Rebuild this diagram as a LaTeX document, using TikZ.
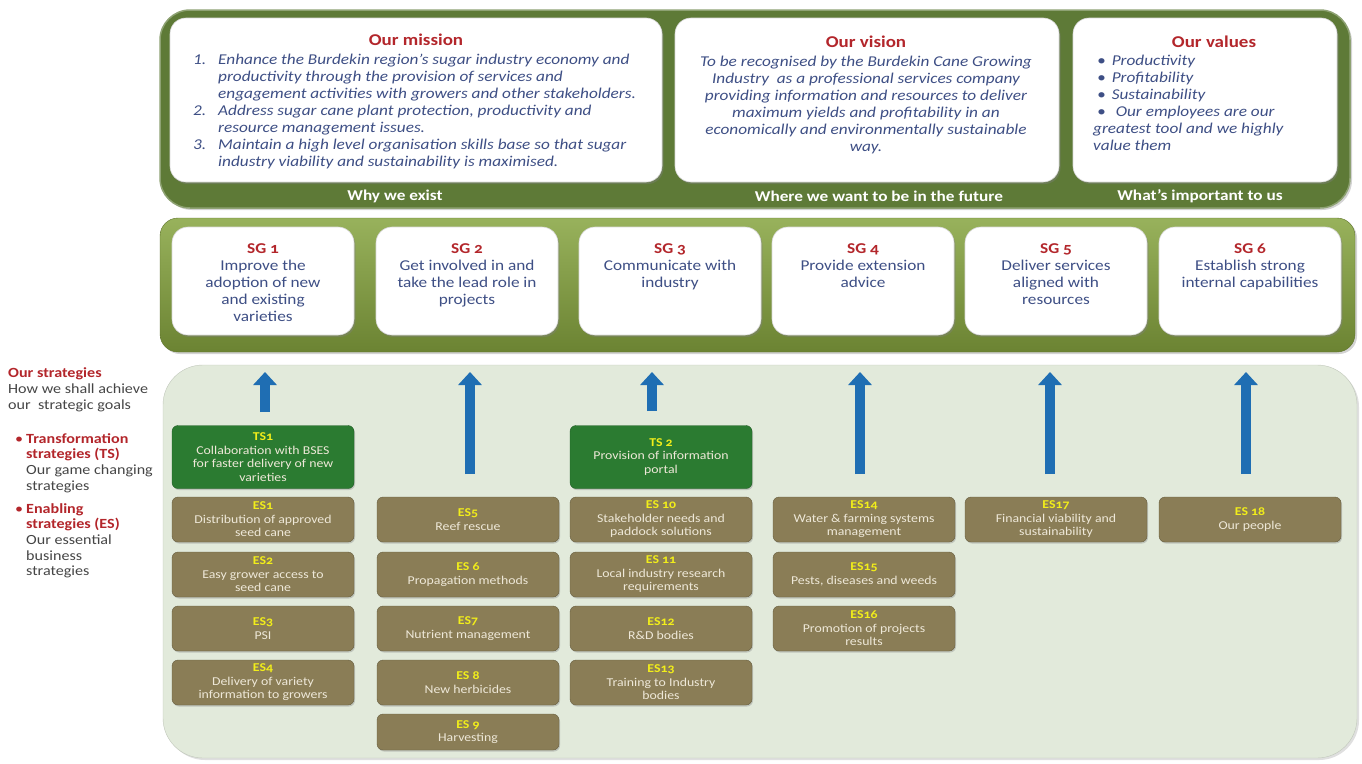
\documentclass[tikz,border=0pt]{standalone}
\usepackage{fontspec}
\setmainfont{Carlito}[FakeStretch=1.15]
\usepackage{tikz}
\usetikzlibrary{arrows.meta,shadows}

\definecolor{panelgreen}{HTML}{5E7A37}
\definecolor{goalgreen}{HTML}{86A43F}
\definecolor{basegreen}{HTML}{E2EADB}
\definecolor{headred}{HTML}{B3262B}
\definecolor{textblue}{HTML}{3E4F85}
\definecolor{notegrey}{HTML}{454545}
\definecolor{esbrown}{HTML}{8A7D56}
\definecolor{tsgreen}{HTML}{2B7B31}
\definecolor{arrowblue}{HTML}{1F6EB3}
\definecolor{labyellow}{HTML}{F2EE1A}
\definecolor{boxtext}{HTML}{EEE8D8}

\newcommand{\slab}[1]{{\color{labyellow}\bfseries\addfontfeatures{Numbers=OldStyle}#1}}
\newcommand{\sghead}[1]{{\color{headred}\bfseries\addfontfeatures{Numbers=OldStyle}#1}}

\tikzset{
  whitebox/.style={draw=black!15, fill=white, rounded corners=16pt, line width=0.6pt,
    drop shadow={opacity=0.4,shadow xshift=1.5pt,shadow yshift=-2pt}},
  sgbox/.style={whitebox, minimum width=182pt, minimum height=108pt},
  head/.style={text=headred, font=\bfseries\fontsize{16.5}{18}\selectfont, inner sep=0},
  body/.style={text=textblue, font=\itshape\fontsize{15}{17}\selectfont, inner sep=0},
  footer/.style={text=white, font=\bfseries\fontsize{15}{16}\selectfont, inner sep=0},
  sgtext/.style={text=textblue, font=\fontsize{15}{17}\selectfont, inner sep=0, align=center, anchor=north},
  note/.style={text=notegrey, font=\fontsize{14}{15.7}\selectfont, inner sep=0, align=left, anchor=north west},
  stratbox/.style={rounded corners=6pt, minimum width=182pt, align=center, text=boxtext,
    font=\fontsize{12}{13.5}\selectfont, inner sep=2pt,
    drop shadow={opacity=0.35,shadow xshift=1pt,shadow yshift=-1.5pt}},
  esbox/.style={stratbox, fill=esbrown, draw=esbrown!75!black, minimum height=45pt},
  tsbox/.style={stratbox, fill=tsgreen, draw=tsgreen!75!black, minimum height=63pt},
  uparrow/.style={draw=arrowblue, line width=10pt, -{Triangle[width=23pt,length=13pt,fill=arrowblue]}}
}

\begin{document}
\begin{tikzpicture}[x=1pt,y=-1pt]
  \useasboundingbox (0,0) rectangle (1362,763);

  % panels
  \path[fill=panelgreen, draw=panelgreen!70!white, line width=1.5pt, rounded corners=30pt,
    drop shadow={opacity=0.35,shadow xshift=2pt,shadow yshift=-2pt}] (160,10) rectangle (1350,208);
  \path[top color=goalgreen!85!white, bottom color=goalgreen!80!black, draw=goalgreen!70!black,
    rounded corners=18pt, drop shadow={opacity=0.35,shadow xshift=2pt,shadow yshift=-2pt}] (160,218) rectangle (1355,352);
  \path[fill=basegreen, draw=basegreen!85!black, rounded corners=40pt,
    drop shadow={opacity=0.25,shadow xshift=2pt,shadow yshift=-2pt}] (163,365) rectangle (1357,758);

  % mission, vision, values
  \node (mission) at (416,100) [whitebox, minimum width=492pt, minimum height=164pt] {};
  \node (vision) at (867,100) [whitebox, minimum width=384pt, minimum height=164pt] {};
  \node (values) at (1205,100) [whitebox, minimum width=264pt, minimum height=164pt] {};
  \node (misshead) at (416,40) [head] {Our mission};
  \node (missbody) at (193,54) [body, anchor=north west, align=left]
    {\makebox[25pt][l]{1.}Enhance the Burdekin region's sugar industry economy and\\
     \hspace*{25pt}productivity through the provision of services and\\
     \hspace*{25pt}engagement activities with growers and other stakeholders.\\
     \makebox[25pt][l]{2.}Address sugar cane plant\ protection, productivity and\\
     \hspace*{25pt}resource management issues.\\
     \makebox[25pt][l]{3.}Maintain a high level organisation skills\ base so that sugar\\
     \hspace*{25pt}industry viability and sustainability is maximised.};
  \node (vishead) at (866,42) [head] {Our vision};
  \node (visbody) at (866,56) [body, anchor=north, align=center]
    {To be recognised by the Burdekin Cane Growing\\
     Industry\ \ as a professional services company\\
     providing information and resources to deliver\\
     maximum\ yields and profitability in an\\
     economically and environmentally sustainable\\
     way.};
  \node (valhead) at (1214,42) [head] {Our values};
  \node (valbody) at (1093,55) [body, anchor=north west, align=left]
    {\hspace*{4pt}\textbullet\hspace{6pt}Productivity\\
     \hspace*{4pt}\textbullet\hspace{6pt}Profitability\\
     \hspace*{4pt}\textbullet\hspace{6pt}Sustainability\\
     \hspace*{4pt}\textbullet\hspace{10pt}Our employees are our\\
     greatest tool and we highly\\
     value them};
  \node (whylab) at (395,196) [footer] {Why we exist};
  \node (wherelab) at (879,196) [footer] {Where we want to be in the future};
  \node (whatlab) at (1200,196) [footer] {What's important to us};

  % strategic goals
  \node (sg1) at (263,281) [sgbox] {};
  \node (sg2) at (467,281) [sgbox] {};
  \node (sg3) at (670,281) [sgbox] {};
  \node (sg4) at (863,281) [sgbox] {};
  \node (sg5) at (1056,281) [sgbox] {};
  \node (sg6) at (1250,281) [sgbox] {};
  \node (sgt1) at (263,243) [sgtext] {\sghead{SG 1}\\Improve the\\adoption of new\\and existing\\varieties};
  \node (sgt2) at (467,243) [sgtext] {\sghead{SG 2}\\Get involved in and\\take the lead role in\\projects};
  \node (sgt3) at (670,243) [sgtext] {\sghead{SG 3}\\Communicate with\\industry};
  \node (sgt4) at (863,243) [sgtext] {\sghead{SG 4}\\Provide extension\\advice};
  \node (sgt5) at (1056,243) [sgtext] {\sghead{SG 5}\\Deliver services\\aligned with\\resources};
  \node (sgt6) at (1250,243) [sgtext] {\sghead{SG 6}\\Establish strong\\internal capabilities};

  % side notes
  \node (strat) at (8,367) [note, font=\fontsize{14}{16}\selectfont]
    {{\color{headred}\bfseries Our strategies}\\How we shall achieve\\our\ \ strategic goals};
  \node (tsnote) at (15,433) [note]
    {\makebox[11pt][l]{\color{headred}\textbullet}{\color{headred}\bfseries Transformation}\\
     \hspace*{11pt}{\color{headred}\bfseries strategies (TS)}\\
     \hspace*{11pt}Our game changing\\
     \hspace*{11pt}strategies};
  \node (esnote) at (15,503) [note]
    {\makebox[11pt][l]{\color{headred}\textbullet}{\color{headred}\bfseries Enabling}\\
     \hspace*{11pt}{\color{headred}\bfseries strategies (ES)}\\
     \hspace*{11pt}Our essential\\
     \hspace*{11pt}business\\
     \hspace*{11pt}strategies};

  % arrows up to the goals
  \coordinate (lo1) at (265,412);
  \coordinate (hi1) at (265,372);
  \coordinate (lo2) at (470,474);
  \coordinate (hi2) at (470,372);
  \coordinate (lo3) at (652,411);
  \coordinate (hi3) at (652,372);
  \coordinate (lo4) at (860,474);
  \coordinate (hi4) at (860,372);
  \coordinate (lo5) at (1050,474);
  \coordinate (hi5) at (1050,372);
  \coordinate (lo6) at (1246,474);
  \coordinate (hi6) at (1246,372);
  \draw[uparrow] (lo1) -- (hi1);
  \draw[uparrow] (lo2) -- (hi2);
  \draw[uparrow] (lo3) -- (hi3);
  \draw[uparrow] (lo4) -- (hi4);
  \draw[uparrow] (lo5) -- (hi5);
  \draw[uparrow] (lo6) -- (hi6);

  % transformation strategies
  \node (ts1) at (263,457) [tsbox] {\slab{TS1}\\Collaboration\ with BSES\\for faster delivery of new\\varieties};
  \node (ts2) at (661,457) [tsbox] {\slab{TS 2}\\Provision of information\\portal};

  % enabling strategies
  \node (es1) at (263,519.5) [esbox] {\slab{ES1}\\Distribution of approved\\seed cane};
  \node (es2) at (263,574.5) [esbox] {\slab{ES2}\\Easy grower access to\\seed cane};
  \node (es3) at (263,628.5) [esbox] {\slab{ES3}\\PSI};
  \node (es4) at (263,682.5) [esbox] {\slab{ES4}\\Delivery of variety\\information to growers};
  \node (es5) at (468,519.5) [esbox] {\slab{ES5}\\Reef rescue};
  \node (es6) at (468,574.5) [esbox] {\slab{ES 6}\\Propagation methods};
  \node (es7) at (468,628.5) [esbox] {\slab{ES7}\\Nutrient management};
  \node (es8) at (468,682.5) [esbox] {\slab{ES 8}\\New herbicides};
  \node (es9) at (468,732) [esbox, minimum height=36pt] {\slab{ES 9}\\Harvesting};
  \node (es10) at (661,519.5) [esbox] {\slab{ES 10}\\Stakeholder needs and\\paddock solutions};
  \node (es11) at (661,574.5) [esbox] {\slab{ES 11}\\Local industry research\\requirements};
  \node (es12) at (661,628.5) [esbox] {\slab{ES12}\\R\&D bodies};
  \node (es13) at (661,682.5) [esbox] {\slab{ES13}\\Training\ to\ Industry\\bodies};
  \node (es14) at (864,519.5) [esbox] {\slab{ES14}\\Water \& farming systems\\management};
  \node (es15) at (864,574.5) [esbox] {\slab{ES15}\\Pests, diseases and weeds};
  \node (es16) at (864,628.5) [esbox] {\slab{ES16}\\Promotion of projects\\results};
  \node (es17) at (1056,519.5) [esbox] {\slab{ES17}\\Financial viability and\\sustainability};
  \node (es18) at (1250,519.5) [esbox] {\slab{ES 18}\\Our people};
\end{tikzpicture}
\end{document}
